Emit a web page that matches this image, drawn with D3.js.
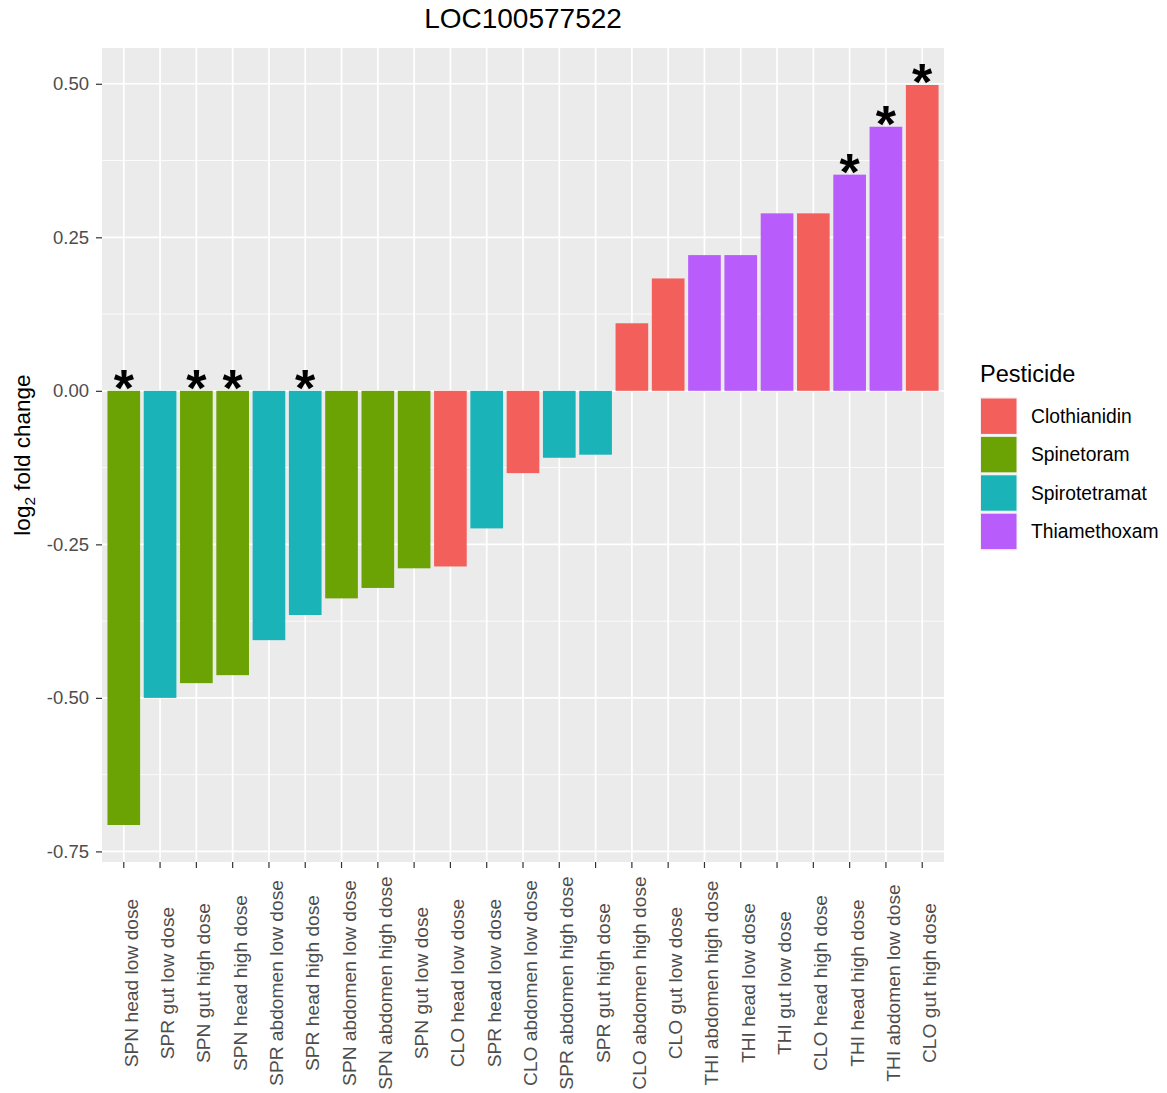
<!DOCTYPE html>
<html>
<head>
<meta charset="utf-8">
<script src="https://cdn.jsdelivr.net/npm/d3@7"></script>
<style>
  body { margin: 0; background: #fff; }
  svg text { font-family: "Liberation Sans", Arial, Helvetica, sans-serif; }
</style>
</head>
<body>
<div id="chart"></div>
<script>
// data
const categories = [
  "SPN head low dose", "SPR gut low dose", "SPN gut high dose", "SPN head high dose",
  "SPR abdomen low dose", "SPR head high dose", "SPN abdomen low dose", "SPN abdomen high dose",
  "SPN gut low dose", "CLO head low dose", "SPR head low dose", "CLO abdomen low dose",
  "SPR abdomen high dose", "SPR gut high dose", "CLO abdomen high dose", "CLO gut low dose",
  "THI abdomen high dose", "THI head low dose", "THI gut low dose", "CLO head high dose",
  "THI head high dose", "THI abdomen low dose", "CLO gut high dose"
];
const foldChange = [
  -0.707, -0.500, -0.476, -0.463, -0.406, -0.365, -0.338, -0.321,
  -0.289, -0.286, -0.224, -0.134, -0.109, -0.104, 0.110, 0.183,
  0.221, 0.221, 0.289, 0.289, 0.352, 0.430, 0.498
];
const pesticide = [
  "Spinetoram", "Spirotetramat", "Spinetoram", "Spinetoram", "Spirotetramat", "Spirotetramat",
  "Spinetoram", "Spinetoram", "Spinetoram", "Clothianidin", "Spirotetramat", "Clothianidin",
  "Spirotetramat", "Spirotetramat", "Clothianidin", "Clothianidin", "Thiamethoxam", "Thiamethoxam",
  "Thiamethoxam", "Clothianidin", "Thiamethoxam", "Thiamethoxam", "Clothianidin"
];
const significant = [
  true, false, true, true, false, true, false, false, false, false, false, false,
  false, false, false, false, false, false, false, false, true, true, true
];
const pesticideNames = ["Clothianidin", "Spinetoram", "Spirotetramat", "Thiamethoxam"];
const pesticideColors = ["#f3605c", "#6ca304", "#19b3b8", "#b85dfb"];
const yTicks = [-0.75, -0.5, -0.25, 0, 0.25, 0.5];
const yMinorTicks = [-0.625, -0.375, -0.125, 0.125, 0.375];

const rows = categories.map((c, i) => ({
  key: c, value: foldChange[i], pesticide: pesticide[i], star: significant[i]
}));

const width = 1167, height = 1093;
const panel = { left: 102, right: 944, top: 48, bottom: 862 };

const svg = d3.select('#chart').append('svg')
  .attr('width', width)
  .attr('height', height);

// scales, ggplot-style expansion (0.6 units discrete, 5% continuous)
const xScale = d3.scaleBand()
  .domain(categories)
  .range([panel.left, panel.right])
  .paddingInner(0.1)
  .paddingOuter(0.15);

const yExt = d3.extent(foldChange);
const yPad = (yExt[1] - yExt[0]) * 0.05;
const yScale = d3.scaleLinear()
  .domain([yExt[0] - yPad, yExt[1] + yPad])
  .range([panel.bottom, panel.top]);

const color = d3.scaleOrdinal().domain(pesticideNames).range(pesticideColors);
const xCenter = d => xScale(d) + xScale.bandwidth() / 2;
const fmt = d3.formatLocale({ decimal: ".", thousands: ",", grouping: [3], currency: ["", ""], minus: "-" }).format('.2f');

// panel background + grid
svg.append('rect')
  .attr('x', panel.left).attr('y', panel.top)
  .attr('width', panel.right - panel.left)
  .attr('height', panel.bottom - panel.top)
  .attr('fill', '#ebebeb');

const grid = svg.append('g').attr('class', 'grid');
grid.selectAll('.minor')
  .data(yMinorTicks)
  .enter().append('line')
  .attr('x1', panel.left).attr('x2', panel.right)
  .attr('y1', d => yScale(d)).attr('y2', d => yScale(d))
  .attr('stroke', '#fff').attr('stroke-width', 0.8);
grid.selectAll('.major-y')
  .data(yTicks)
  .enter().append('line')
  .attr('x1', panel.left).attr('x2', panel.right)
  .attr('y1', d => yScale(d)).attr('y2', d => yScale(d))
  .attr('stroke', '#fff').attr('stroke-width', 1.7);
grid.selectAll('.major-x')
  .data(categories)
  .enter().append('line')
  .attr('x1', d => xCenter(d)).attr('x2', d => xCenter(d))
  .attr('y1', panel.top).attr('y2', panel.bottom)
  .attr('stroke', '#fff').attr('stroke-width', 1.7);

// bars
svg.append('g').attr('class', 'bars')
  .selectAll('.bar')
  .data(rows)
  .enter().append('rect')
  .attr('class', 'bar')
  .attr('x', d => xScale(d.key))
  .attr('width', xScale.bandwidth())
  .attr('y', d => yScale(Math.max(0, d.value)))
  .attr('height', d => Math.abs(yScale(d.value) - yScale(0)))
  .attr('fill', d => color(d.pesticide));

// significance stars
svg.append('g').attr('class', 'stars')
  .selectAll('text')
  .data(rows.filter(d => d.star))
  .enter().append('text')
  .attr('x', d => xCenter(d.key))
  .attr('y', d => yScale(Math.max(0, d.value)) + 15)
  .attr('text-anchor', 'middle')
  .attr('font-size', 52)
  .attr('font-weight', 'bold')
  .attr('fill', '#000')
  .text('*');

// y axis
const yAxis = svg.append('g')
  .attr('class', 'axis-y')
  .attr('transform', `translate(${panel.left}, 0)`)
  .call(d3.axisLeft(yScale).tickValues(yTicks).tickFormat(fmt).tickSize(6).tickPadding(7));
yAxis.select('.domain').remove();
yAxis.selectAll('line').attr('stroke', '#333').attr('stroke-width', 1.2);
yAxis.selectAll('text')
  .attr('fill', '#4d4d4d')
  .attr('font-size', 18.5)
  .style('font-family', '"Liberation Sans", Arial, sans-serif');

// x axis
const xAxis = svg.append('g')
  .attr('class', 'axis-x')
  .attr('transform', `translate(0, ${panel.bottom})`)
  .call(d3.axisBottom(xScale).tickSize(6).tickSizeOuter(0));
xAxis.select('.domain').remove();
xAxis.selectAll('line').attr('stroke', '#333').attr('stroke-width', 1.2);
xAxis.selectAll('text')
  .attr('fill', '#4d4d4d')
  .attr('font-size', 19.2)
  .style('font-family', '"Liberation Sans", Arial, sans-serif')
  .attr('text-anchor', 'middle')
  .attr('dy', null)
  .attr('y', null)
  .attr('transform', 'translate(14, 121) rotate(-90)');

// titles
svg.append('text')
  .attr('x', (panel.left + panel.right) / 2)
  .attr('y', 28)
  .attr('text-anchor', 'middle')
  .attr('font-size', 28)
  .attr('fill', '#000')
  .text('LOC100577522');

const yLabel = svg.append('text')
  .attr('text-anchor', 'middle')
  .attr('font-size', 22.5)
  .attr('fill', '#000')
  .attr('transform', `translate(30, ${(panel.top + panel.bottom) / 2}) rotate(-90)`);
yLabel.append('tspan').text('log');
yLabel.append('tspan').attr('font-size', 15.5).attr('dy', 5).text('2');
yLabel.append('tspan').attr('dy', -5).text(' fold change');

// legend
const legend = svg.append('g').attr('class', 'legend')
  .attr('transform', 'translate(980, 360)');
legend.append('text')
  .attr('x', 0).attr('y', 22)
  .attr('font-size', 23.5)
  .attr('fill', '#000')
  .text('Pesticide');
const keys = legend.selectAll('.key')
  .data(pesticideNames)
  .enter().append('g')
  .attr('class', 'key')
  .attr('transform', (d, i) => `translate(0, ${37 + i * 38.4})`);
keys.append('rect')
  .attr('width', 37.5).attr('height', 38.4)
  .attr('fill', '#f2f2f2');
keys.append('rect')
  .attr('x', 1).attr('y', 1.5)
  .attr('width', 35.5).attr('height', 35.4)
  .attr('fill', d => color(d));
keys.append('text')
  .attr('x', 51).attr('y', 19.2)
  .attr('dy', '0.35em')
  .attr('font-size', 19.3)
  .attr('fill', '#000')
  .text(d => d);
</script>
</body>
</html>
